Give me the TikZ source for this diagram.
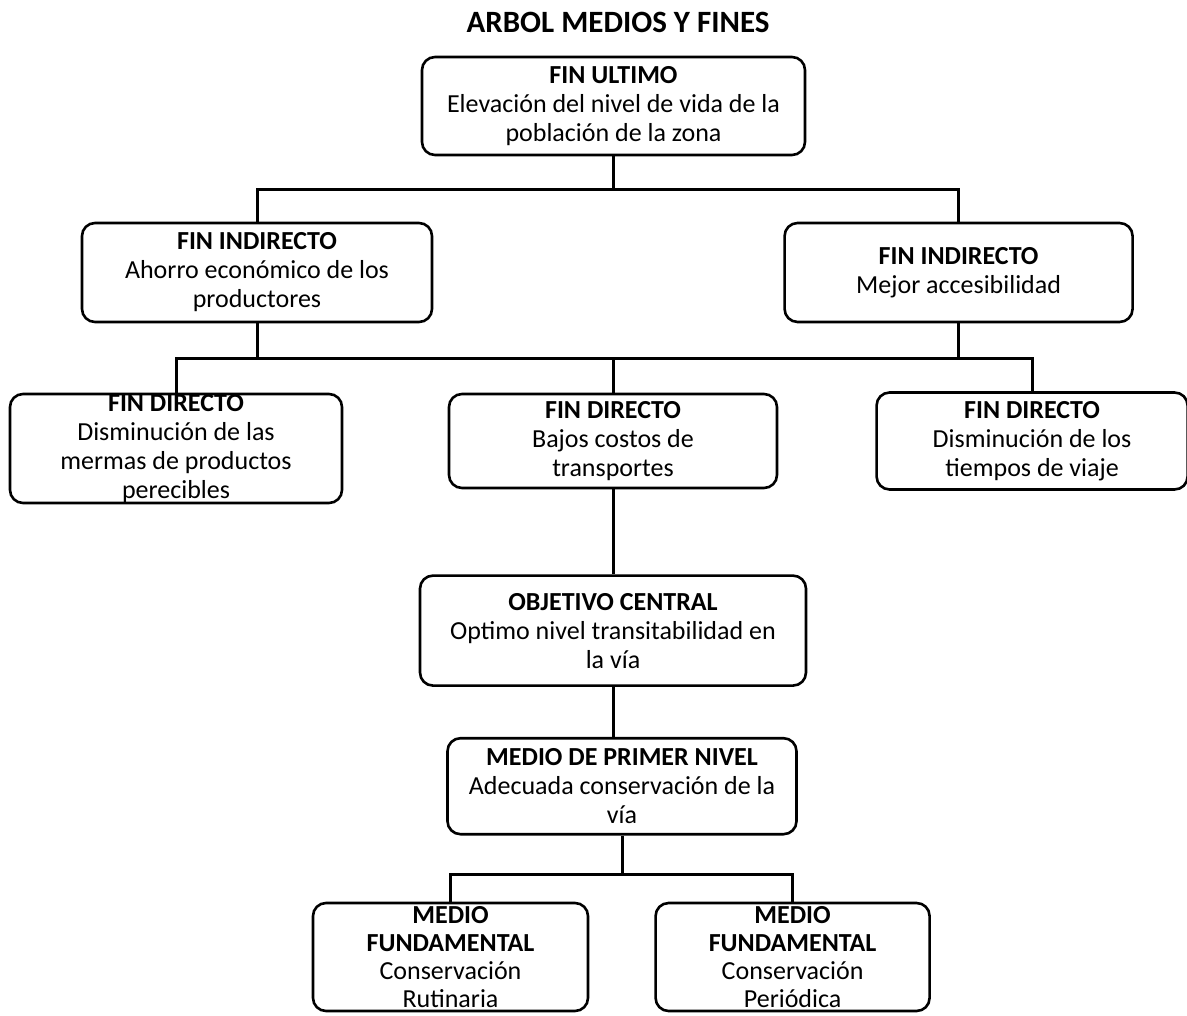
\documentclass[tikz,border=0pt]{standalone}
\usepackage{fontspec}
\setmainfont{Carlito}
\usepackage{tikz}
\usetikzlibrary{positioning}

\begin{document}
\begin{tikzpicture}[x=1pt, y=1pt, every node/.style={font=\fontsize{26}{29}\selectfont}]
\tikzset{box/.style={draw, line width=2.6pt, rounded corners=13pt, align=center, inner xsep=6pt, inner ysep=0pt}}
\tikzset{link/.style={line width=3pt}}
\useasboundingbox (0,0) rectangle (1187,-1016);
\node[font=\fontsize{31}{36}\selectfont\bfseries] (ttl) at (618,-22) {ARBOL MEDIOS Y FINES};
\node[box, minimum width=383pt, minimum height=98pt] (fu) at (613.5,-106) {\textbf{FIN ULTIMO}\\Elevación del nivel de vida de la\\población de la zona};
\node[box, minimum width=350pt, minimum height=99pt] (fi1) at (257,-272.5) {\textbf{FIN INDIRECTO}\\Ahorro económico de los\\productores};
\node[box, minimum width=348pt, minimum height=99pt, right=350pt of fi1] (fi2) {\textbf{FIN INDIRECTO}\\Mejor accesibilidad};
\node[box, minimum width=332pt, minimum height=109pt] (fd1) at (176,-448.5) {\textbf{FIN DIRECTO}\\Disminución de las\\mermas de productos\\perecibles};
\node[box, minimum width=328pt, minimum height=94pt] (fd2) at (613,-441) {\textbf{FIN DIRECTO}\\Bajos costos de\\transportes};
\node[box, minimum width=311pt, minimum height=97pt, right=97pt of fd2] (fd3) {\textbf{FIN DIRECTO}\\Disminución de los\\tiempos de viaje};
\node[box, minimum width=386pt, minimum height=110pt, below=85pt of fd2] (oc) {\textbf{OBJETIVO CENTRAL}\\Optimo nivel transitabilidad en\\la vía};
\node[box, minimum width=349pt, minimum height=96pt, below=50pt of oc, xshift=9pt] (mp) {\textbf{MEDIO DE PRIMER NIVEL}\\Adecuada conservación de la\\vía};
\node[box, font=\fontsize{26}{28}\selectfont, minimum width=275pt, minimum height=108pt] (mf1) at (450.5,-957) {\textbf{MEDIO}\\\textbf{FUNDAMENTAL}\\Conservación\\Rutinaria};
\node[box, font=\fontsize{26}{28}\selectfont, minimum width=274pt, minimum height=108pt, right=65pt of mf1] (mf2) {\textbf{MEDIO}\\\textbf{FUNDAMENTAL}\\Conservación\\Periódica};
\draw[link] (fu.south) -- ++(0,-33) coordinate (t1) -| (fi1.north);
\draw[link] (t1) -| (fi2.north);
\draw[link] (fi1.south) -- ++(0,-35) coordinate (t2) -| (fd1.north);
\draw[link] (t2) -| (fd3.north);
\draw[link] (fi2.south) -- (fi2.south |- t2);
\draw[link] (fd2.north) -- (fd2.north |- t2);
\draw[link] (fd2) -- (oc);
\draw[link] (oc.south) -- (oc.south |- mp.north);
\draw[link] (mp.south) -- ++(0,-39) coordinate (t3) -| (mf1.north);
\draw[link] (t3) -| (mf2.north);
\end{tikzpicture}
\end{document}
